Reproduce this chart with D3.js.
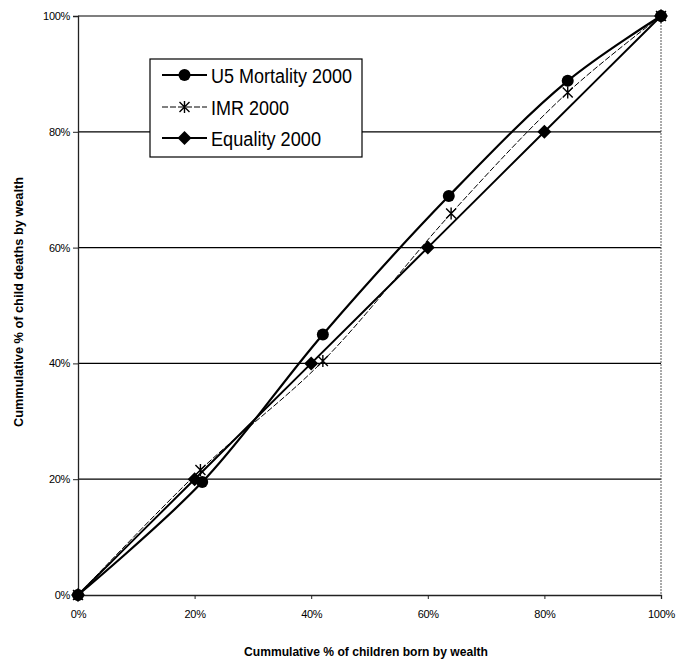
<!DOCTYPE html>
<html>
<head>
<meta charset="utf-8">
<script src="https://cdn.jsdelivr.net/npm/d3@7/dist/d3.min.js"></script>
<style>
  html, body { margin: 0; padding: 0; background: #fff; }
  svg { display: block; font-family: "Liberation Sans", Arial, sans-serif; }
</style>
</head>
<body>
<svg id="chart" width="679" height="662"></svg>
<script>
// Cumulative share of children born (x, %) against cumulative share of child deaths (y, %)
const u5X = [0, 21.3, 42.0, 63.6, 84.0, 100];
const u5Y = [0, 19.5, 45.0, 68.9, 88.8, 100];
const imrX = [0, 21.0, 42.0, 64.0, 84.0, 100];
const imrY = [0, 21.6, 40.4, 65.9, 86.8, 100];
const eqX = [0, 20, 40, 60, 80, 100];
const eqY = [0, 20, 40, 60, 80, 100];
const tickValues = [0, 20, 40, 60, 80, 100];
const seriesNames = ["U5 Mortality 2000", "IMR 2000", "Equality 2000"];

const svg = d3.select("#chart");
const plotL = 78, plotR = 661, plotT = 16, plotB = 595;

const x = d3.scaleLinear().domain([0, 100]).range([plotL, plotR]);
const y = d3.scaleLinear().domain([0, 100]).range([plotB, plotT]);

// Horizontal gridlines
svg.append("g").selectAll("line").data(tickValues.slice(1)).join("line")
  .attr("x1", plotL).attr("x2", plotR)
  .attr("y1", d => y(d)).attr("y2", d => y(d))
  .attr("stroke", "#000").attr("stroke-width", 1.2);

// Plot frame, right side
svg.append("line").attr("x1", plotR).attr("x2", plotR).attr("y1", plotT).attr("y2", plotB)
  .attr("stroke", "#555").attr("stroke-width", 1).attr("stroke-dasharray", "2,1");

// Axes
const yAxis = svg.append("g").attr("transform", `translate(${plotL},0)`)
  .call(d3.axisLeft(y).tickValues(tickValues).tickFormat(d => d + "%").tickSize(5).tickPadding(3));
const xAxis = svg.append("g").attr("transform", `translate(0,${plotB})`)
  .call(d3.axisBottom(x).tickValues(tickValues).tickFormat(d => d + "%").tickSize(4).tickPadding(11));
[yAxis, xAxis].forEach(g => {
  g.select(".domain").attr("stroke", "#222").attr("stroke-width", 1.3);
  g.selectAll(".tick line").attr("stroke", "#222");
  g.selectAll("text").attr("font-size", 11).attr("fill", "#000")
    .attr("font-family", "'Liberation Sans', Arial, sans-serif").attr("letter-spacing", -0.3);
});

// Axis titles
svg.append("text")
  .attr("x", 366).attr("y", 656).attr("text-anchor", "middle")
  .attr("font-size", 12).attr("font-weight", "bold")
  .attr("textLength", 244).attr("lengthAdjust", "spacingAndGlyphs")
  .text("Cummulative % of children born by wealth");
svg.append("text")
  .attr("transform", "translate(23,302) rotate(-90)").attr("text-anchor", "middle")
  .attr("font-size", 12).attr("font-weight", "bold")
  .attr("textLength", 250).attr("lengthAdjust", "spacingAndGlyphs")
  .text("Cummulative % of child deaths by wealth");

const line = d3.line().x(d => x(d[0])).y(d => y(d[1])).curve(d3.curveCatmullRom);

const series = [
  { name: seriesNames[0], pts: d3.zip(u5X, u5Y), width: 2.2, dash: null, marker: "circle", len: 141 },
  { name: seriesNames[1], pts: d3.zip(imrX, imrY), width: 1, dash: "6,2", marker: "star", len: 78 },
  { name: seriesNames[2], pts: d3.zip(eqX, eqY), width: 2, dash: null, marker: "diamond", len: 110 }
];

function drawMarker(g, type, cx, cy) {
  if (type === "circle") {
    g.append("circle").attr("cx", cx).attr("cy", cy).attr("r", 6).attr("fill", "#000");
  } else if (type === "diamond") {
    g.append("path").attr("d", `M${cx},${cy - 7}L${cx + 7},${cy}L${cx},${cy + 7}L${cx - 7},${cy}Z`).attr("fill", "#000");
  } else {
    const s = 5;
    g.append("path")
      .attr("d", `M${cx - s},${cy - s}L${cx + s},${cy + s}M${cx - s},${cy + s}L${cx + s},${cy - s}M${cx},${cy - s - 1}L${cx},${cy + s + 1}`)
      .attr("stroke", "#000").attr("stroke-width", 1.4).attr("fill", "none");
  }
}

series.forEach(s => {
  svg.append("path").datum(s.pts).attr("d", line)
    .attr("fill", "none").attr("stroke", "#000").attr("stroke-width", s.width)
    .attr("stroke-dasharray", s.dash);
});
series.forEach(s => {
  const g = svg.append("g");
  s.pts.forEach(p => drawMarker(g, s.marker, x(p[0]), y(p[1])));
});

// Legend
const lg = svg.append("g");
lg.append("rect").attr("x", 150).attr("y", 59).attr("width", 212).attr("height", 98)
  .attr("fill", "#fff").attr("stroke", "#000").attr("stroke-width", 1.2);
const rowY = [75, 107, 138];
series.forEach((s, i) => {
  const ry = rowY[i];
  lg.append("line").attr("x1", 162).attr("x2", 207).attr("y1", ry).attr("y2", ry)
    .attr("stroke", "#000").attr("stroke-width", s.width).attr("stroke-dasharray", s.dash);
  drawMarker(lg, s.marker, 184.5, ry);
  lg.append("text").attr("x", 211).attr("y", ry + 7.5).attr("font-size", 20)
    .attr("textLength", s.len).attr("lengthAdjust", "spacingAndGlyphs").text(s.name);
});
</script>
</body>
</html>
